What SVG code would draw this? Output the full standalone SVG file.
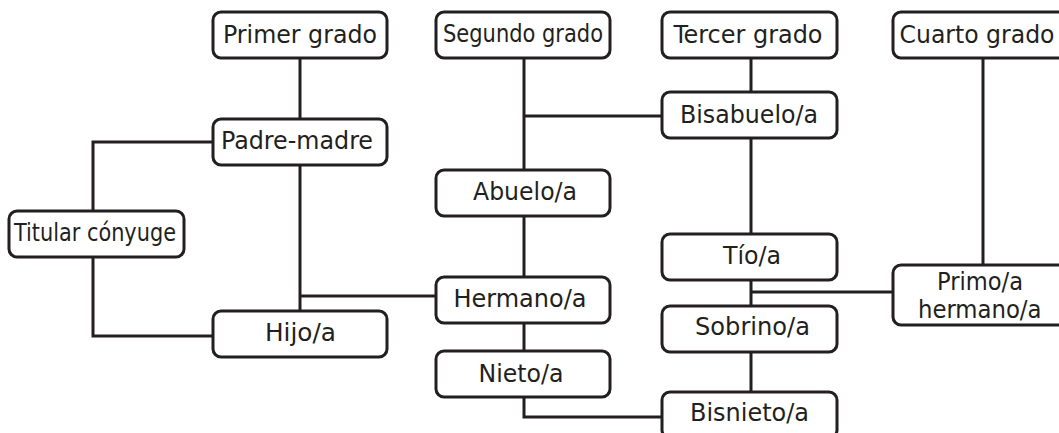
<svg xmlns="http://www.w3.org/2000/svg" width="1059" height="433" viewBox="0 0 1059 433">
<style>
.box{fill:#fff;stroke:#231f20;stroke-width:3}
.lbl{font-family:"DejaVu Sans Condensed","DejaVu Sans",sans-serif;font-size:25px;fill:#231f20}
.sm{font-size:24px}
.con{fill:none;stroke:#231f20;stroke-width:3}
</style>
<rect width="1059" height="433" fill="#fff"/>
<g id="connectors">
<path class="con" d="M300 59V119"/>
<path class="con" d="M213 142H93V211"/>
<path class="con" d="M93 257V336H213"/>
<path class="con" d="M300 165V311"/>
<path class="con" d="M300 296H436"/>
<path class="con" d="M524 58V170"/>
<path class="con" d="M524 116H662"/>
<path class="con" d="M751 58V92"/>
<path class="con" d="M751 138V234"/>
<path class="con" d="M524 216V277"/>
<path class="con" d="M524 323V351"/>
<path class="con" d="M524 397V417H662"/>
<path class="con" d="M751 280V306"/>
<path class="con" d="M751 292H893"/>
<path class="con" d="M751 352V392"/>
<path class="con" d="M983 58V265"/>
</g>
<g id="primer"><rect class="box" x="213" y="12" width="174" height="46" rx="8"/><text class="lbl" x="223" y="42.5" textLength="154" lengthAdjust="spacingAndGlyphs">Primer grado</text></g>
<g id="segundo"><rect class="box" x="436" y="12" width="174" height="46" rx="8"/><text class="lbl" x="443" y="42" textLength="160" lengthAdjust="spacingAndGlyphs">Segundo grado</text></g>
<g id="tercer"><rect class="box" x="662" y="12" width="175" height="46" rx="8"/><text class="lbl" x="673.5" y="42.5" textLength="149" lengthAdjust="spacingAndGlyphs">Tercer grado</text></g>
<g id="cuarto"><rect class="box" x="893" y="12" width="174" height="46" rx="8"/><text class="lbl" x="899.5" y="43" textLength="155" lengthAdjust="spacingAndGlyphs">Cuarto grado</text></g>
<g id="padre"><rect class="box" x="213" y="119" width="174" height="46" rx="8"/><text class="lbl" x="221" y="148.5" textLength="152" lengthAdjust="spacingAndGlyphs">Padre-madre</text></g>
<g id="bisabuelo"><rect class="box" x="662" y="92" width="175" height="46" rx="8"/><text class="lbl" x="680" y="123" textLength="138" lengthAdjust="spacingAndGlyphs">Bisabuelo/a</text></g>
<g id="abuelo"><rect class="box" x="436" y="170" width="174" height="46" rx="8"/><text class="lbl" x="473" y="199.5" textLength="104" lengthAdjust="spacingAndGlyphs">Abuelo/a</text></g>
<g id="titular"><rect class="box" x="9" y="211" width="175" height="46" rx="8"/><text class="lbl" x="14" y="240.5" textLength="162" lengthAdjust="spacingAndGlyphs">Titular cónyuge</text></g>
<g id="tio"><rect class="box" x="662" y="234" width="175" height="46" rx="8"/><text class="lbl" x="723" y="263.5" textLength="58" lengthAdjust="spacingAndGlyphs">Tío/a</text></g>
<g id="hermano"><rect class="box" x="436" y="277" width="174" height="46" rx="8"/><text class="lbl" x="453.5" y="306.5" textLength="133" lengthAdjust="spacingAndGlyphs">Hermano/a</text></g>
<g id="primo"><rect class="box" x="893" y="265" width="174" height="60" rx="8"/><text class="lbl sm" x="937" y="290" textLength="86" lengthAdjust="spacingAndGlyphs">Primo/a</text><text class="lbl sm" x="918" y="318" textLength="123.5" lengthAdjust="spacingAndGlyphs">hermano/a</text></g>
<g id="hijo"><rect class="box" x="213" y="311" width="174" height="46" rx="8"/><text class="lbl" x="265" y="341" textLength="71" lengthAdjust="spacingAndGlyphs">Hijo/a</text></g>
<g id="sobrino"><rect class="box" x="662" y="306" width="175" height="46" rx="8"/><text class="lbl" x="695" y="335" textLength="115" lengthAdjust="spacingAndGlyphs">Sobrino/a</text></g>
<g id="nieto"><rect class="box" x="436" y="351" width="174" height="46" rx="8"/><text class="lbl" x="478.5" y="381.5" textLength="85" lengthAdjust="spacingAndGlyphs">Nieto/a</text></g>
<g id="bisnieto"><rect class="box" x="662" y="392" width="175" height="46" rx="8"/><text class="lbl" x="690" y="420.5" textLength="119" lengthAdjust="spacingAndGlyphs">Bisnieto/a</text></g>
</svg>
